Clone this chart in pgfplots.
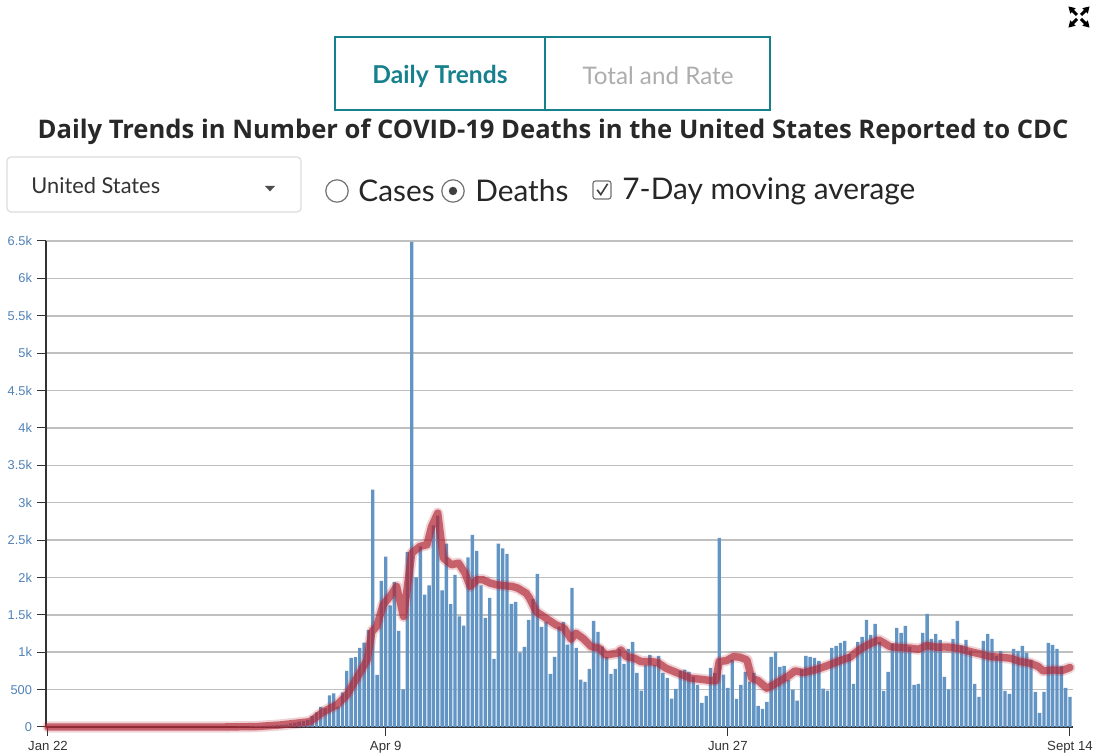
\documentclass[border=0pt]{standalone}
\usepackage{fontspec}
\setmainfont{Lato}
\newfontfamily\titlefont{Open Sans}
\newfontfamily\tickfont{Liberation Sans}
\usepackage{pgfplots}
\pgfplotsset{compat=1.18}
\usepackage{pgfplotstable}
\usetikzlibrary{arrows.meta}
\definecolor{barblue}{RGB}{99,149,196}
\definecolor{avgred}{RGB}{178,38,52}
\definecolor{tabteal}{RGB}{22,128,140}
\definecolor{ticklab}{RGB}{80,130,185}
\definecolor{gridgray}{RGB}{192,192,192}
\definecolor{titlegray}{RGB}{40,40,40}
\definecolor{boxgray}{RGB}{220,220,220}

\pgfplotstableread[row sep=\\]{
day avg\\
0 0\\ 40 0\\ 48 5\\ 53.6 27\\ 60.5 71\\ 63.6 205\\ 66.7 295\\ 69 428\\ 71.3 652\\ 73.7 897\\ 74.8 1277\\ 75.9 1344\\ 77.4 1634\\ 79 1750\\ 80.5 1880\\ 82.1 1478\\ 84 2326\\ 85.9 2415\\ 87.5 2437\\ 88.6 2683\\ 90 2861\\ 91.3 2259\\ 93.2 2170\\ 94.8 2192\\ 96.3 2058\\ 97.5 1879\\ 99 1969\\ 100.5 1969\\ 102.1 1924\\ 103.6 1902\\ 105.5 1890\\ 107.3 1879\\ 108.5 1857\\ 110.4 1790\\ 111.2 1723\\ 112.7 1545\\ 115 1455\\ 117.3 1366\\ 119.2 1321\\ 120.8 1174\\ 121.9 1254\\ 123.5 1187\\ 125.4 1076\\ 127.3 1054\\ 128.8 964\\ 131.5 987\\ 132.3 1031\\ 133.5 942\\ 135.4 920\\ 136.9 875\\ 139.2 875\\ 140.8 862\\ 142.7 786\\ 144.6 741\\ 146.5 696\\ 148.5 652\\ 150.8 638\\ 153.1 620\\ 154.2 620\\ 155 875\\ 156.7 888\\ 158.3 942\\ 159.8 933\\ 161.4 897\\ 162.5 652\\ 164 620\\ 166 518\\ 167.5 562\\ 169.4 629\\ 171 683\\ 172.5 750\\ 174.4 728\\ 176.4 754\\ 178.3 786\\ 179.8 817\\ 181.7 860\\ 182.9 888\\ 185.2 933\\ 186.8 1009\\ 188.3 1067\\ 189.8 1112\\ 191.8 1165\\ 192.9 1129\\ 194.4 1076\\ 196.8 1062\\ 199.1 1054\\ 201 1040\\ 202.9 1089\\ 205.2 1067\\ 207.1 1070\\ 208.3 1067\\ 210.6 1045\\ 212.9 1009\\ 215.2 978\\ 217.5 942\\ 219.8 933\\ 222.2 920\\ 224.5 875\\ 226.8 853\\ 228.7 808\\ 229.8 750\\ 232.2 763\\ 234.1 754\\ 236 795\\
}\avgtable

\begin{document}
\begin{tikzpicture}
\useasboundingbox (0,0) rectangle (554.5pt,376.5pt);
\fill[white] (0,0) rectangle (554.5pt,376.5pt);

% tabs
\draw[tabteal, line width=1pt] (167.5pt,321.5pt) rectangle (272.5pt,358pt);
\draw[tabteal, line width=1pt] (272.5pt,321.5pt) rectangle (385pt,358pt);
\node[text=tabteal, font=\fontsize{12.3}{14}\selectfont\bfseries] at (220pt,338.5pt) {Daily Trends};
\node[text=black!32, font=\fontsize{12.1}{14}\selectfont] at (329pt,338.5pt) {Total and Rate};

% title
\node[text=titlegray, font=\titlefont\fontsize{12.8}{15}\selectfont\bfseries] at (276.5pt,310.5pt) {Daily Trends in Number of COVID-19 Deaths in the United States Reported to CDC};

% dropdown
\draw[boxgray, line width=0.6pt, rounded corners=2pt, fill=white] (3.5pt,270.5pt) rectangle (150.5pt,298pt);
\node[anchor=west, text=black!80, font=\fontsize{10.9}{12}\selectfont, inner sep=0pt] at (15.5pt,283.5pt) {United States};
\fill[black!70] (132.5pt,283.5pt) -- (137.5pt,283.5pt) -- (135pt,280.8pt) -- cycle;

% radio buttons & checkbox
\draw[black!55, line width=0.6pt] (168.5pt,281pt) circle (5.6pt);
\node[anchor=west, text=black!85, font=\fontsize{14.9}{17}\selectfont, inner sep=0pt] at (179pt,281.3pt) {Cases};
\draw[black!55, line width=0.6pt] (226.5pt,281pt) circle (5.6pt);
\fill[black!75] (226.5pt,281pt) circle (2.1pt);
\node[anchor=west, text=black!85, font=\fontsize{14.9}{17}\selectfont, inner sep=0pt] at (237.5pt,281.3pt) {Deaths};
\draw[black!55, line width=0.6pt, rounded corners=1.2pt] (296.5pt,277pt) rectangle (305.5pt,286pt);
\draw[black!75, line width=0.8pt] (298.6pt,281.6pt) -- (300.4pt,279.2pt) -- (303.8pt,284.6pt);
\node[anchor=west, text=black!85, font=\fontsize{14.9}{17}\selectfont, inner sep=0pt] at (311pt,280.7pt) {7-Day moving average};

% expand icon
\begin{scope}[shift={(539.5pt,368pt)}, line width=1.5pt, black]
\draw[-{Triangle[length=3.2pt,width=3.6pt]}] (1pt,1pt) -- (5.3pt,5.3pt);
\draw[-{Triangle[length=3.2pt,width=3.6pt]}] (-1pt,1pt) -- (-5.3pt,5.3pt);
\draw[-{Triangle[length=3.2pt,width=3.6pt]}] (1pt,-1pt) -- (5.3pt,-5.3pt);
\draw[-{Triangle[length=3.2pt,width=3.6pt]}] (-1pt,-1pt) -- (-5.3pt,-5.3pt);
\end{scope}

\begin{axis}[
  at={(23pt,13pt)}, anchor=south west,
  scale only axis, width=513.5pt, height=243pt,
  xmin=-0.46, xmax=236.7, ymin=0, ymax=6500,
  axis lines=left, axis line style={-, draw=black!80, line width=0.6pt},
  ymajorgrids, grid style={gridgray, line width=0.8pt},
  ytick={0,500,1000,1500,2000,2500,3000,3500,4000,4500,5000,5500,6000,6500},
  yticklabels={0,500,1k,1.5k,2k,2.5k,3k,3.5k,4k,4.5k,5k,5.5k,6k,6.5k},
  xtick={0,78,157,236},
  xticklabels={Jan 22,Apr 9,Jun 27,Sept 14},
  tick align=outside, major tick length=4.5pt,
  tick style={draw=black!80, line width=0.5pt},
  yticklabel style={font=\tickfont\fontsize{6.4}{7}\selectfont, text=ticklab, xshift=1pt},
  xticklabel style={font=\tickfont\fontsize{6.6}{7}\selectfont, text=black!80, yshift=1pt},
  clip=false,
]
\addplot[ybar, bar width=0.78, fill=barblue, draw=none] coordinates {
(39,1) (40,1) (41,2) (42,3) (43,2) (44,4) (45,5) (46,6) (47,8) (48,10) (49,12) (50,14) (51,18) (52,22) (53,25)
(54,27) (55,30) (56,49) (57,58) (58,71) (59,80) (60,94) (61,147) (62,196) (63,268) (64,250) (65,424) (66,451) (67,272) (68,464) (69,750)
(70,924) (71,933) (72,1058) (73,1129) (74,1295) (75,3174) (76,696) (77,1955) (78,2277) (79,1625) (80,1937) (81,1286) (82,504) (83,2339) (84,6489)
(85,2000) (86,2415) (87,1772) (88,1893) (89,2696) (90,2826) (91,1826) (92,2451) (93,1643) (94,2036) (95,1478) (96,1357) (97,2268) (98,2571) (99,2357)
(100,1893) (101,1460) (102,1728) (103,911) (104,2451) (105,2388) (106,2317) (107,1647) (108,1674) (109,995) (110,1071) (111,1433) (112,1710) (113,2049) (114,1339)
(115,1406) (116,710) (117,937) (118,1344) (119,1406) (120,1103) (121,1861) (122,1058) (123,634) (124,603) (125,777) (126,1420) (127,1272) (128,1076) (129,933)
(130,710) (131,777) (132,1045) (133,844) (134,1045) (135,1138) (136,723) (137,487) (138,826) (139,964) (140,826) (141,951) (142,723) (143,656) (144,379)
(145,509) (146,754) (147,768) (148,737) (149,674) (150,562) (151,321) (152,415) (153,790) (154,720) (155,2531) (156,700) (157,522) (158,897) (159,375)
(160,562) (161,737) (162,607) (163,723) (164,281) (165,241) (166,335) (167,937) (168,1004) (169,804) (170,817) (171,630) (172,500) (173,353) (174,772)
(175,951) (176,937) (177,924) (178,884) (179,513) (180,487) (181,1058) (182,1085) (183,1125) (184,1152) (185,978) (186,576) (187,1138) (188,1205) (189,1433)
(190,1232) (191,1379) (192,1140) (193,482) (194,737) (195,1112) (196,1326) (197,1259) (198,1353) (199,1071) (200,562) (201,576) (202,1259) (203,1513) (204,1178)
(205,1245) (206,1165) (207,670) (208,504) (209,1178) (210,1420) (211,1090) (212,1165) (213,1020) (214,576) (215,402) (216,1152) (217,1245) (218,1178) (219,951)
(220,1018) (221,482) (222,442) (223,1045) (224,1018) (225,1085) (226,991) (227,897) (228,469) (229,188) (230,469) (231,1125) (232,1098) (233,1045) (234,817)
(235,522) (236,402)
};
\addplot[avgred, opacity=0.2, line width=5.6pt, line join=round, line cap=round] table[x=day, y=avg] {\avgtable};
\addplot[avgred, opacity=0.66, line width=3.7pt, line join=round, line cap=round] table[x=day, y=avg] {\avgtable};
\end{axis}
\end{tikzpicture}
\end{document}
